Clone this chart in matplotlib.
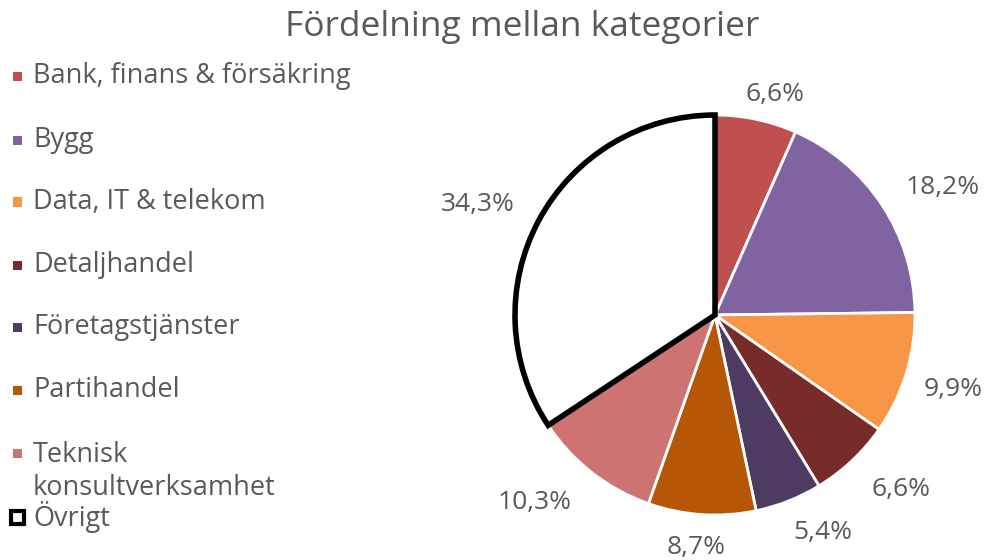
import numpy as np
import matplotlib.pyplot as plt
from matplotlib.patches import Rectangle

# data ---------------------------------------------------------------
categories = ["Bank, finans & försäkring", "Bygg", "Data, IT & telekom", "Detaljhandel",
              "Företagstjänster", "Partihandel", "Teknisk\nkonsultverksamhet", "Övrigt"]
shares = [6.6, 18.2, 9.9, 6.6, 5.4, 8.7, 10.3, 34.3]
colors = ["#C0504D", "#8064A2", "#F79646", "#772C2A", "#4D3B62", "#B65708", "#CD7371", "#FFFFFF"]
title = "Fördelning mellan kategorier"

plt.rcParams['font.family'] = ['Open Sans', 'DejaVu Sans']
grey = "#595959"

fig = plt.figure(figsize=(9.84, 5.6), dpi=100)
W, H = 984, 560

# pie: center (715, 315) px, radius 200 px
cx, cy, R = 715, 315, 200
half = R * 1.25
ax = fig.add_axes([(cx - half) / W, (H - cy - half) / H, 2 * half / W, 2 * half / H])
wedges, _ = ax.pie(shares, colors=colors, startangle=90, counterclock=False,
                   wedgeprops=dict(edgecolor="white", linewidth=2))
ax.set_xlim(-1.25, 1.25)
ax.set_ylim(-1.25, 1.25)
ax.set_aspect("equal")
wedges[-1].set_edgecolor("black")
wedges[-1].set_linewidth(4)
wedges[-1].set_joinstyle("miter")
wedges[-1].set_zorder(5)

# percentage labels outside the pie (pushed out by their own text box)
renderer = fig.canvas.get_renderer()
for w, v in zip(wedges, shares):
    th = np.deg2rad((w.theta1 + w.theta2) / 2)
    t = ax.text(0, 0, f"{v:.1f}%".replace(".", ","), ha="center", va="center",
                fontsize=19, color=grey)
    hw = t.get_window_extent(renderer).width / 2
    c = np.clip(2 * np.cos(th), -1, 1)
    s = np.clip(2 * np.sin(th), -1, 1)
    px = 215 * np.cos(th) + 1.3 * hw * c
    px = min(px, W - cx - hw - 1)  # keep inside the figure
    py = 217 * np.sin(th) + 12 * s - 4
    t.set_position((px / R, py / R))

fig.text(522 / W, 1 - 27 / H, title, ha="center", va="center", fontsize=25.5, color=grey)

# legend -------------------------------------------------------------
ys = [76, 140, 202, 265, 327, 390, 453, 517]
for i, (lab, c) in enumerate(zip(categories, colors)):
    y = ys[i]
    if lab == "Övrigt":
        fig.patches.append(Rectangle((11 / W, 1 - (y + 6.5) / H), 13 / W, 13 / H,
                                     transform=fig.transFigure, facecolor="white",
                                     edgecolor="black", linewidth=3))
    else:
        fig.patches.append(Rectangle((13 / W, 1 - (y + 4.5) / H), 9 / W, 9 / H,
                                     transform=fig.transFigure, facecolor=c, edgecolor="none"))
    multi = "\n" in lab
    fig.text(33 / W, 1 - (y - 12 if multi else y) / H, lab, ha="left",
             va="top" if multi else "center", fontsize=19.5, color=grey, linespacing=1.25)

fig.savefig("out.png", dpi=100)
